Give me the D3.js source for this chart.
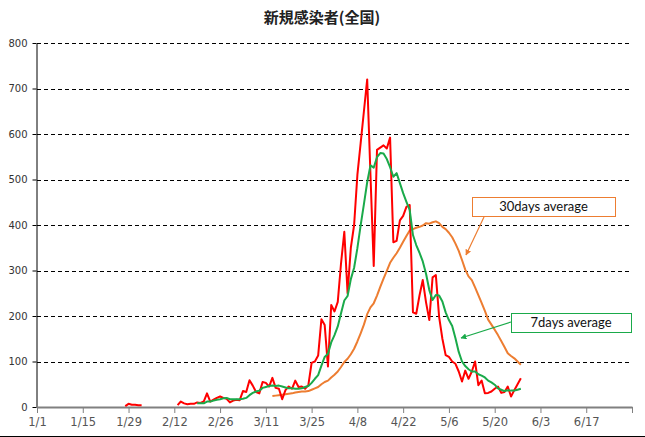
<!DOCTYPE html>
<html><head><meta charset="utf-8">
<script src="https://cdn.jsdelivr.net/npm/d3@7/dist/d3.min.js"></script>
<style>body{margin:0;background:#fff}svg{display:block}</style>
</head><body>
<svg id="chart" width="645" height="437"></svg>
<script>
// ---- data ----
const title = "新規感染者(全国)";
const yTicks = [0, 100, 200, 300, 400, 500, 600, 700, 800];
const xTickDates = ["2020-01-01","2020-01-15","2020-01-29","2020-02-12","2020-02-26","2020-03-11","2020-03-25","2020-04-08","2020-04-22","2020-05-06","2020-05-20","2020-06-03","2020-06-17","2020-07-01"];
const xTickLabels = ["1/1","1/15","1/29","2/12","2/26","3/11","3/25","4/8","4/22","5/6","5/20","6/3","6/17",""];

// daily new cases, late January cluster (from 2020-01-28)
const janStart = "2020-01-28";
const janCases = [2, 7, 5, 5, 4, 4];
// daily new cases from 2020-02-13
const dailyStart = "2020-02-13";
const dailyCases = [4,12,8,6,7,7,10,9,12,30,
  12,16,20,23,20,18,10,14,16,15,
  35,33,59,47,33,30,55,53,45,64,
  42,40,17,37,45,40,58,44,45,40,
  48,97,100,113,193,180,89,224,210,231,
  316,385,250,350,400,510,580,650,720,510,
  310,565,570,575,568,592,362,365,410,420,
  440,444,208,205,245,279,230,191,285,290,
  198,150,114,110,100,95,78,56,80,62,
  78,100,48,58,30,31,34,40,45,31,
  33,45,23,37,50,63];
// 7 days average from 2020-02-19
const avg7Start = "2020-02-19";
const avg7 = [8,8,8,12,12,14,16,17,19,20,
  17,17,17,17,18,20,26,31,34,36,
  42,44,46,47,46,47,45,43,41,41,
  40,40,41,44,46,53,62,70,91,110,
  117,142,158,177,206,234,244,281,306,349,
  399,446,494,531,526,549,558,557,545,527,
  506,514,492,470,451,433,378,356,339,320,
  293,257,235,246,245,232,208,191,178,151,
  121,100,90,83,78,78,72,69,65,58,
  54,49,41,38,35,37,36,36,38,40];
// 30 days average from 2020-03-13
const avg30Start = "2020-03-13";
const avg30 = [24,25,26,27,28,29,30,32,33,34,
  34,35,38,41,44,50,55,58,65,71,
  78,88,99,106,116,128,144,162,181,204,
  219,228,245,264,282,299,317,328,338,350,
  363,376,388,391,394,396,399,404,403,406,
  408,404,396,391,383,373,359,343,323,302,
  287,279,263,246,229,211,192,181,170,158,
  145,132,118,112,107,100,93];
const labels30 = "30days average";
const labels7 = "7days average";

// ---- drawing ----
const parse = d3.timeParse("%Y-%m-%d");
const toSeries = (start, vals) => vals.map((v, i) => ({date: d3.timeDay.offset(parse(start), i), value: v}));

const svg = d3.select("#chart");
const W = 645, H = 437;
const x = d3.scaleTime().domain([parse("2020-01-01"), parse("2020-07-01")]).range([37, 632]);
const y = d3.scaleLinear().domain([0, 800]).range([407, 43]);

svg.append("rect").attr("width", W).attr("height", H).attr("fill", "#fff");

// title
svg.append("text").attr("x", 322).attr("y", 23).attr("text-anchor", "middle")
  .attr("font-family", "'Noto Sans CJK JP', sans-serif").attr("font-size", 15).attr("font-weight", "bold")
  .attr("fill", "#222").text(title);

// gridlines
svg.append("g").selectAll("line").data(yTicks.filter(t => t > 0)).join("line")
  .attr("x1", x.range()[0]).attr("x2", x.range()[1])
  .attr("y1", d => Math.round(y(d)) + 0.5).attr("y2", d => Math.round(y(d)) + 0.5)
  .attr("stroke", "#000").attr("stroke-width", 1).attr("stroke-dasharray", "4,3");

// y axis
const yAxis = svg.append("g").attr("transform", `translate(${x.range()[0] - 0.5},0)`)
  .call(d3.axisLeft(y).tickValues(yTicks).tickSize(4).tickPadding(5).tickSizeOuter(0));
yAxis.select(".domain").attr("stroke", "#000");
yAxis.selectAll(".tick line").attr("stroke", "#000");
yAxis.selectAll(".tick text").attr("font-family", "'DejaVu Sans', sans-serif").attr("font-size", 10).attr("fill", "#333");

// x axis
const xAxis = svg.append("g").attr("transform", `translate(0,${y(0)})`)
  .call(d3.axisBottom(x).tickValues(xTickDates.map(parse)).tickFormat((d, i) => xTickLabels[i]).tickSize(6).tickPadding(5).tickSizeOuter(0));
xAxis.select(".domain").attr("stroke", "#808080").attr("stroke-width", 2);
xAxis.selectAll(".tick line").attr("stroke", "#808080").attr("stroke-width", 1);
xAxis.selectAll(".tick text").attr("font-family", "'DejaVu Sans', sans-serif").attr("font-size", 11.5).attr("fill", "#555");

// lines
const line = d3.line().x(d => x(d.date)).y(d => y(d.value));
const plot = svg.append("g");
plot.append("path").datum(toSeries(avg30Start, avg30)).attr("d", line)
  .attr("fill", "none").attr("stroke", "#ED7D31").attr("stroke-width", 2).attr("stroke-linejoin", "round");
plot.append("path").datum(toSeries(janStart, janCases)).attr("d", line)
  .attr("fill", "none").attr("stroke", "#FF0000").attr("stroke-width", 2).attr("stroke-linejoin", "round");
plot.append("path").datum(toSeries(dailyStart, dailyCases)).attr("d", line)
  .attr("fill", "none").attr("stroke", "#FF0000").attr("stroke-width", 2).attr("stroke-linejoin", "round");
plot.append("path").datum(toSeries(avg7Start, avg7)).attr("d", line)
  .attr("fill", "none").attr("stroke", "#1AAA4A").attr("stroke-width", 2).attr("stroke-linejoin", "round");

// annotations
const defs = svg.append("defs");
function marker(id, color) {
  defs.append("marker").attr("id", id).attr("viewBox", "0 0 10 10").attr("refX", 9).attr("refY", 5)
    .attr("markerWidth", 5).attr("markerHeight", 5).attr("orient", "auto")
    .append("path").attr("d", "M0,0 L10,5 L0,10 z").attr("fill", color);
}
marker("arrO", "#ED7D31");
marker("arrG", "#1AAA4A");

function callout(bx, by, bw, bh, txt, color, ax1, ay1, ax2, ay2, mk) {
  svg.append("line").attr("x1", ax1).attr("y1", ay1).attr("x2", ax2).attr("y2", ay2)
    .attr("stroke", color).attr("stroke-width", 1.2).attr("marker-end", `url(#${mk})`);
  svg.append("rect").attr("x", bx + 0.5).attr("y", by + 0.5).attr("width", bw).attr("height", bh)
    .attr("fill", "#fff").attr("stroke", color).attr("stroke-width", 1);
  svg.append("text").attr("x", bx + bw / 2).attr("y", by + bh / 2 + 4.5).attr("text-anchor", "middle")
    .attr("font-family", "Lato, 'Open Sans', sans-serif").attr("font-size", 13).attr("fill", "#111").text(txt);
}
callout(472, 197, 143, 19, labels30, "#ED7D31", 484, 217, 466, 255, "arrO");
callout(511, 313, 120, 19, labels7, "#1AAA4A", 511, 322, 461, 338, "arrG");

// outer bottom border
svg.append("line").attr("x1", 0).attr("x2", W).attr("y1", 436.5).attr("y2", 436.5).attr("stroke", "#000");
</script>
</body></html>
